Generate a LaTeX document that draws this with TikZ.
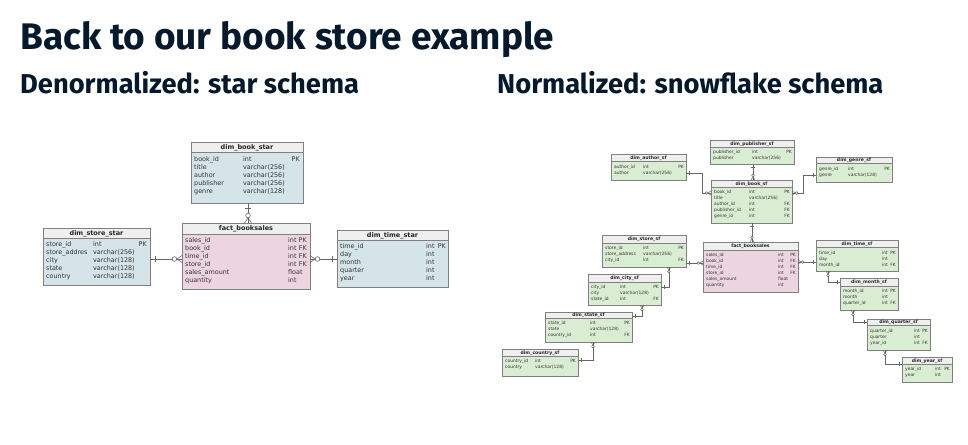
\documentclass[tikz,border=0pt]{standalone}
\usepackage{fontspec}
\setmainfont{DejaVu Sans}
\newfontfamily\hfont{Fira Sans}
\definecolor{ink}{HTML}{05192D}
\definecolor{txt}{HTML}{333333}
\definecolor{bord}{HTML}{808080}
\definecolor{hdr}{HTML}{EFEFEF}
\definecolor{dimblue}{HTML}{D5E4E8}
\definecolor{factpink}{HTML}{EDD5E0}
\definecolor{sfgreen}{HTML}{D9EDD2}
\definecolor{lc}{HTML}{666666}

\newcommand\erbox[9]{%
  \node[tbl,fill=#7,minimum width={(#4-#2)*1pt},minimum height={(#5-#3)*1pt},anchor=north west] (#1) at (#2,#3) {};
  \fill[hdr] (#2,#3) rectangle (#4,#6);
  \draw[tline] (#2,#6) -- (#4,#6);
  \draw[tline] (#1.north west) rectangle (#1.south east);
  \node[#8] (#1-h) at ({(#2+#4)/2},{(#3+#6)/2}) {#9};
}
\newcommand\erow[9]{%
  \node[#2,anchor=west] (#1-n) at (#4,#3) {#5};
  \node[#2,anchor=west] (#1-t) at (#6,#3) {#7};
  \if\relax\detokenize{#9}\relax\else
  \node[#2,anchor=east] (#1-k) at (#8,#3) {#9};\fi
}

\begin{document}
\begin{tikzpicture}[x=1pt,y=-1pt,
  tbl/.style={draw=bord,line width=0.5pt,inner sep=0pt,outer sep=0pt},
  tline/.style={draw=bord,line width=0.5pt},
  conn/.style={draw=lc,line width=0.6pt},
  hs/.style={font=\bfseries\fontsize{6.5}{7}\selectfont,text=black!85,inner sep=0pt,text height=4.7pt,text depth=0pt},
  rs/.style={font=\fontsize{6.4}{7}\selectfont,text=txt,inner sep=0pt,text height=4.6pt,text depth=0pt},
  hsf/.style={font=\bfseries\fontsize{4.6}{5}\selectfont,text=black!85,inner sep=0pt,text height=3.3pt,text depth=0pt},
  rsf/.style={font=\fontsize{4.4}{5}\selectfont,text=txt,inner sep=0pt,text height=3.2pt,text depth=0pt},
  many/.pic={\draw[conn] (0,-3.5) -- (5,0) -- (0,3.5); \draw[conn,fill=white] (7.6,0) circle[radius=2.3pt];},
  one/.pic={\draw[conn] (5,-3) -- (5,3);}
]
\fill[white] (0,0) rectangle (968,444);
\useasboundingbox (0,0) rectangle (968,444);

% titles
\node[anchor=base west,inner sep=0pt,font=\hfont\bfseries\fontsize{37}{42}\selectfont,text=ink] (title) at (20,50) {Back to our book store example};
\node[anchor=base west,inner sep=0pt,font=\hfont\bfseries\fontsize{27.3}{31}\selectfont,text=ink] (sub1) at (20,93) {Denormalized: star schema};
\node[anchor=base west,inner sep=0pt,font=\hfont\bfseries\fontsize{27.3}{31}\selectfont,text=ink] (sub2) at (497,93) {Normalized: snowflake schema};

% ---------------- star schema ----------------
\erbox{book}{191}{142}{303}{203}{152}{dimblue}{hs}{dim\_book\_star}
\erow{b1}{rs}{159}{194}{book\_id}{243}{int}{300}{PK}
\erow{b2}{rs}{167}{194}{title}{243}{varchar(256)}{300}{}
\erow{b3}{rs}{175}{194}{author}{243}{varchar(256)}{300}{}
\erow{b4}{rs}{183}{194}{publisher}{243}{varchar(256)}{300}{}
\erow{b5}{rs}{191}{194}{genre}{243}{varchar(128)}{300}{}

\erbox{store}{43}{228}{150}{285}{238}{dimblue}{hs}{dim\_store\_star}
\erow{s1}{rs}{244}{46}{store\_id}{93}{int}{147}{PK}
\erow{s2}{rs}{252}{46}{store\_addres}{93}{varchar(256)}{147}{}
\erow{s3}{rs}{260}{46}{city}{93}{varchar(128)}{147}{}
\erow{s4}{rs}{268}{46}{state}{93}{varchar(128)}{147}{}
\erow{s5}{rs}{276}{46}{country}{93}{varchar(128)}{147}{}

\erbox{fact}{182}{223}{310}{289}{234}{factpink}{hs}{fact\_booksales}
\erow{f1}{rs}{240}{185}{sales\_id}{288}{int}{307}{PK}
\erow{f2}{rs}{248}{185}{book\_id}{288}{int}{307}{FK}
\erow{f3}{rs}{256}{185}{time\_id}{288}{int}{307}{FK}
\erow{f4}{rs}{264}{185}{store\_id}{288}{int}{307}{FK}
\erow{f5}{rs}{272}{185}{sales\_amount}{288}{float}{307}{}
\erow{f6}{rs}{280}{185}{quantity}{288}{int}{307}{}

\erbox{time}{337}{230}{448}{287}{240}{dimblue}{hs}{dim\_time\_star}
\erow{t1}{rs}{246}{340}{time\_id}{426}{int}{446}{PK}
\erow{t2}{rs}{254}{340}{day}{426}{int}{446}{}
\erow{t3}{rs}{262}{340}{month}{426}{int}{446}{}
\erow{t4}{rs}{270}{340}{quarter}{426}{int}{446}{}
\erow{t5}{rs}{278}{340}{year}{426}{int}{446}{}

% star connectors
\draw[conn] (book.south -| 248,0) -- (fact.north -| 248,0);
\pic[rotate=-90] at (book.south -| 248,0) {one};
\pic[rotate=90] at (fact.north -| 248,0) {many};
\draw[conn] (store.east |- 0,259) -- (fact.west |- 0,259);
\pic at (store.east |- 0,259) {one};
\pic[rotate=180] at (fact.west |- 0,259) {many};
\draw[conn] (fact.east |- 0,259) -- (time.west |- 0,259);
\pic at (fact.east |- 0,259) {many};
\pic[rotate=180] at (time.west |- 0,259) {one};

% ---------------- snowflake schema ----------------
\erbox{author}{611}{154}{686}{180}{161}{sfgreen}{hsf}{dim\_author\_sf}
\erow{a1}{rsf}{167}{614}{author\_id}{643}{int}{684}{PK}
\erow{a2}{rsf}{173}{614}{author}{643}{varchar(256)}{684}{}

\erbox{publ}{710}{140}{794}{164}{147}{sfgreen}{hsf}{dim\_publisher\_sf}
\erow{p1}{rsf}{152}{713}{publisher\_id}{752}{int}{792}{PK}
\erow{p2}{rsf}{158}{713}{publisher}{752}{varchar(256)}{792}{}

\erbox{genre}{816}{157}{892}{182}{163}{sfgreen}{hsf}{dim\_genre\_sf}
\erow{g1}{rsf}{169}{819}{genre\_id}{848}{int}{890}{PK}
\erow{g2}{rsf}{175}{819}{genre}{848}{varchar(128)}{890}{}

\erbox{bsf}{711}{180}{792}{223}{187}{sfgreen}{hsf}{dim\_book\_sf}
\erow{bs1}{rsf}{192}{714}{book\_id}{749}{int}{790}{PK}
\erow{bs2}{rsf}{198}{714}{title}{749}{varchar(256)}{790}{}
\erow{bs3}{rsf}{204}{714}{author\_id}{749}{int}{790}{FK}
\erow{bs4}{rsf}{210}{714}{publisher\_id}{749}{int}{790}{FK}
\erow{bs5}{rsf}{216}{714}{genre\_id}{749}{int}{790}{FK}

\erbox{ssf}{602}{235}{686}{267}{243}{sfgreen}{hsf}{dim\_store\_sf}
\erow{ss1}{rsf}{248}{605}{store\_id}{643}{int}{684}{PK}
\erow{ss2}{rsf}{254}{605}{store\_address}{643}{varchar(256)}{684}{}
\erow{ss3}{rsf}{260}{605}{city\_id}{643}{int}{684}{FK}

\erbox{fsf}{703}{242}{798}{292}{250}{factpink}{hsf}{fact\_booksales}
\erow{fs1}{rsf}{255}{706}{sales\_id}{778}{int}{796}{PK}
\erow{fs2}{rsf}{261}{706}{book\_id}{778}{int}{796}{FK}
\erow{fs3}{rsf}{267}{706}{time\_id}{778}{int}{796}{FK}
\erow{fs4}{rsf}{273}{706}{store\_id}{778}{int}{796}{FK}
\erow{fs5}{rsf}{279}{706}{sales\_amount}{778}{float}{796}{}
\erow{fs6}{rsf}{285}{706}{quantity}{778}{int}{796}{}

\erbox{tsf}{816}{240}{898}{271}{247}{sfgreen}{hsf}{dim\_time\_sf}
\erow{ts1}{rsf}{253}{819}{time\_id}{882}{int}{896}{PK}
\erow{ts2}{rsf}{259}{819}{day}{882}{int}{896}{}
\erow{ts3}{rsf}{265}{819}{month\_id}{882}{int}{896}{FK}

\erbox{city}{588}{274}{661}{305}{282}{sfgreen}{hsf}{dim\_city\_sf}
\erow{c1}{rsf}{287}{591}{city\_id}{620}{int}{659}{PK}
\erow{c2}{rsf}{293}{591}{city}{620}{varchar(128)}{659}{}
\erow{c3}{rsf}{299}{591}{state\_id}{620}{int}{659}{FK}

\erbox{month}{840}{278}{898}{310}{286}{sfgreen}{hsf}{dim\_month\_sf}
\erow{m1}{rsf}{291}{843}{month\_id}{882}{int}{896}{PK}
\erow{m2}{rsf}{297}{843}{month}{882}{int}{896}{}
\erow{m3}{rsf}{303}{843}{quarter\_id}{882}{int}{896}{FK}

\erbox{state}{545}{312}{632}{342}{318}{sfgreen}{hsf}{dim\_state\_sf}
\erow{st1}{rsf}{323}{548}{state\_id}{590}{int}{630}{PK}
\erow{st2}{rsf}{329}{548}{state}{590}{varchar(128)}{630}{}
\erow{st3}{rsf}{335}{548}{country\_id}{590}{int}{630}{FK}

\erbox{quarter}{867}{319}{930}{350}{325}{sfgreen}{hsf}{dim\_quarter\_sf}
\erow{q1}{rsf}{331}{870}{quarter\_id}{914}{int}{928}{PK}
\erow{q2}{rsf}{337}{870}{quarter}{914}{int}{928}{}
\erow{q3}{rsf}{343}{870}{year\_id}{914}{int}{928}{FK}

\erbox{country}{502}{349}{578}{376}{356}{sfgreen}{hsf}{dim\_country\_sf}
\erow{co1}{rsf}{361}{505}{country\_id}{535}{int}{576}{PK}
\erow{co2}{rsf}{367}{505}{country}{535}{varchar(128)}{576}{}

\erbox{year}{902}{357}{952}{382}{364}{sfgreen}{hsf}{dim\_year\_sf}
\erow{y1}{rsf}{369}{905}{year\_id}{935}{int}{950}{PK}
\erow{y2}{rsf}{375}{905}{year}{935}{int}{950}{}

% snowflake connectors
\begin{scope}[conn/.append style={line width=0.5pt}]
\draw[conn] (author.east |- 0,173) -- (702,173) |- (bsf.west |- 0,193);
\pic[scale=0.6] at (author.east |- 0,173) {one};
\pic[scale=0.6,rotate=180] at (bsf.west |- 0,193) {many};

\draw[conn] (publ.south -| 753,0) -- (bsf.north -| 753,0);
\pic[scale=0.6,rotate=-90] at (publ.south -| 753,0) {one};
\pic[scale=0.6,rotate=90] at (bsf.north -| 753,0) {many};

\draw[conn] (genre.west |- 0,175) -- (803,175) |- (bsf.east |- 0,193);
\pic[scale=0.6,rotate=180] at (genre.west |- 0,175) {one};
\pic[scale=0.6] at (bsf.east |- 0,193) {many};

\draw[conn] (bsf.south -| 752,0) -- (fsf.north -| 752,0);
\pic[scale=0.6,rotate=-90] at (bsf.south -| 752,0) {one};
\pic[scale=0.6,rotate=90] at (fsf.north -| 752,0) {many};

\draw[conn] (ssf.east |- 0,263) -- (fsf.west |- 0,263);
\pic[scale=0.6] at (ssf.east |- 0,263) {one};
\pic[scale=0.6,rotate=180] at (fsf.west |- 0,263) {many};

\draw[conn] (fsf.east |- 0,262) -- (tsf.west |- 0,262);
\pic[scale=0.6] at (fsf.east |- 0,262) {many};
\pic[scale=0.6,rotate=180] at (tsf.west |- 0,262) {one};

\draw[conn] (city.east |- 0,287) -| (ssf.south -| 669,0);
\pic[scale=0.6] at (city.east |- 0,287) {one};
\pic[scale=0.6,rotate=-90] at (ssf.south -| 669,0) {many};

\draw[conn] (state.east |- 0,316) -| (city.south -| 642,0);
\pic[scale=0.6] at (state.east |- 0,316) {one};
\pic[scale=0.6,rotate=-90] at (city.south -| 642,0) {many};

\draw[conn] (country.east |- 0,360) -| (state.south -| 593,0);
\pic[scale=0.6] at (country.east |- 0,360) {one};
\pic[scale=0.6,rotate=-90] at (state.south -| 593,0) {many};

\draw[conn] (month.west |- 0,282) -| (tsf.south -| 828,0);
\pic[scale=0.6,rotate=180] at (month.west |- 0,282) {one};
\pic[scale=0.6,rotate=-90] at (tsf.south -| 828,0) {many};

\draw[conn] (quarter.west |- 0,322) -| (month.south -| 853,0);
\pic[scale=0.6,rotate=180] at (quarter.west |- 0,322) {one};
\pic[scale=0.6,rotate=-90] at (month.south -| 853,0) {many};

\draw[conn] (year.west |- 0,364) -| (quarter.south -| 885,0);
\pic[scale=0.6,rotate=180] at (year.west |- 0,364) {one};
\pic[scale=0.6,rotate=-90] at (quarter.south -| 885,0) {many};
\end{scope}
\end{tikzpicture}
\end{document}
